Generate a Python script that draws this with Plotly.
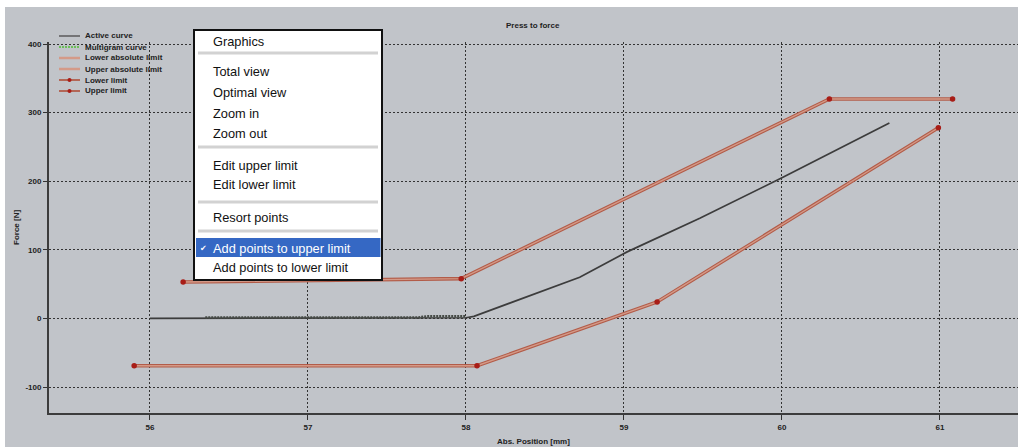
import plotly.graph_objects as go

# ---------------- data ----------------
active_x = [56.0, 58.0, 58.05, 58.72, 59.02, 59.48, 60.0, 60.68]
active_y = [0, 1, 3, 60, 97, 146, 205, 285]

multigram_x = [56.35, 57.7, 57.75, 58.0]
multigram_y = [1.5, 1.5, 3, 3]

upper_limit_x = [56.21, 57.97, 60.30, 61.08]
upper_limit_y = [53, 58, 320, 320]
lower_limit_x = [55.90, 58.07, 59.21, 60.99]
lower_limit_y = [-69, -69, 24, 278]

upper_abs_x = [56.21, 57.97, 60.30, 61.08]
upper_abs_y = [53, 58, 320, 320]
lower_abs_x = [55.90, 58.07, 59.21, 60.99]
lower_abs_y = [-69, -69, 24, 278]

x_ticks = [56, 57, 58, 59, 60, 61]
y_ticks = [-100, 0, 100, 200, 300, 400]

legend_names = ["Active curve", "Multigram curve", "Lower absolute limit",
                "Upper absolute limit", "Lower limit", "Upper limit"]
menu_items = ["Graphics", "Total view", "Optimal view", "Zoom in", "Zoom out",
              "Edit upper limit", "Edit lower limit", "Resort points",
              "Add points to upper limit", "Add points to lower limit"]

# ---------------- geometry ----------------
W, H = 1018, 447
L, R, T, B = 49, 0, 42, 34
PW, PH = W - L - R, H - T - B


def px(x):
    return (x - L) / PW


def py(y):
    return (H - B - y) / PH


BG = "#c1c4c9"
RED = "#b25c49"
SALMON = "#d49a88"
MARK = "#a81d17"
DARK = "#3c3c3c"

fig = go.Figure()

fig.add_trace(go.Scatter(x=lower_abs_x, y=lower_abs_y, mode="lines",
                         line=dict(color=RED, width=3.6), name="Lower absolute limit"))
fig.add_trace(go.Scatter(x=upper_abs_x, y=upper_abs_y, mode="lines",
                         line=dict(color=RED, width=3.6), name="Upper absolute limit"))
fig.add_trace(go.Scatter(x=lower_limit_x, y=lower_limit_y, mode="lines+markers",
                         line=dict(color=SALMON, width=1.4),
                         marker=dict(color=MARK, size=5.5), name="Lower limit"))
fig.add_trace(go.Scatter(x=upper_limit_x, y=upper_limit_y, mode="lines+markers",
                         line=dict(color=SALMON, width=1.4),
                         marker=dict(color=MARK, size=5.5), name="Upper limit"))
fig.add_trace(go.Scatter(x=active_x, y=active_y, mode="lines",
                         line=dict(color=DARK, width=1.7), name="Active curve"))
fig.add_trace(go.Scatter(x=multigram_x, y=multigram_y, mode="lines",
                         line=dict(color="#454a45", width=2.5, dash="2px,1px"),
                         name="Multigram curve"))

shapes = []
ann = []

# white frame strips
shapes.append(dict(type="rect", xref="paper", yref="paper", x0=px(0), x1=px(W),
                   y0=py(0), y1=py(7), fillcolor="white", line=dict(width=0)))
shapes.append(dict(type="rect", xref="paper", yref="paper", x0=px(0), x1=px(5),
                   y0=py(0), y1=py(H), fillcolor="white", line=dict(width=0)))

# title and axis titles
tfont = dict(family="Liberation Sans", size=8, color="#222", weight="bold")
ann.append(dict(text="Press to force", x=px(533), y=py(26), xref="paper", yref="paper",
                showarrow=False, font=tfont, xanchor="center", yanchor="middle"))
ann.append(dict(text="Abs. Position [mm]", x=px(533), y=py(441), xref="paper", yref="paper",
                showarrow=False, font=tfont, xanchor="center", yanchor="middle"))
ann.append(dict(text="Force [N]", x=px(16), y=py(228), xref="paper", yref="paper",
                showarrow=False, font=tfont, textangle=-90, xanchor="center", yanchor="middle"))

# legend (drawn manually)
leg_y = [36, 47, 58, 69, 80, 91]
leg_styles = [
    dict(color="#5a5a5a", width=1.5, dash="solid"),
    dict(color="#6cbf5a", width=2, dash="2px,1px"),
    dict(color=SALMON, width=2.5, dash="solid"),
    dict(color=SALMON, width=2.5, dash="solid"),
    dict(color=RED, width=1.8, dash="solid"),
    dict(color=RED, width=1.8, dash="solid"),
]
lfont = dict(family="Liberation Sans", size=8, color="#222", weight="bold")
for i, (name, yy, st) in enumerate(zip(legend_names, leg_y, leg_styles)):
    shapes.append(dict(type="line", xref="paper", yref="paper", x0=px(59), x1=px(80),
                       y0=py(yy), y1=py(yy), line=st))
    if i >= 4:
        shapes.append(dict(type="circle", xref="paper", yref="paper",
                           x0=px(67.5), x1=px(71.5), y0=py(yy - 2), y1=py(yy + 2),
                           fillcolor=MARK, line=dict(width=0)))
    ann.append(dict(text=name, x=px(83), y=py(yy), xref="paper", yref="paper",
                    showarrow=False, font=lfont, xanchor="left", yanchor="middle"))

# context menu
mx0, mx1, my0, my1 = 194, 382, 30, 280
shapes.append(dict(type="rect", xref="paper", yref="paper", x0=px(mx0), x1=px(mx1),
                   y0=py(my1), y1=py(my0), fillcolor="white",
                   line=dict(color="#111", width=2)))
for sy in [53, 147, 202, 231]:
    shapes.append(dict(type="line", xref="paper", yref="paper", x0=px(198), x1=px(378),
                       y0=py(sy), y1=py(sy), line=dict(color="#d2d2d2", width=3)))
shapes.append(dict(type="rect", xref="paper", yref="paper", x0=px(196), x1=px(380.5),
                   y0=py(257), y1=py(238), fillcolor="#3568c4", line=dict(width=0)))
item_y = [41, 72, 92, 113, 133, 165, 184, 217, 248, 267]
mfont = dict(family="Liberation Sans", size=12.8, color="#111")
for name, yy in zip(menu_items, item_y):
    f = dict(mfont)
    if name == "Add points to upper limit":
        f["color"] = "white"
    ann.append(dict(text=name, x=px(211), y=py(yy), xref="paper", yref="paper",
                    showarrow=False, font=f, xanchor="left", yanchor="middle"))
ann.append(dict(text="✔", x=px(203), y=py(248), xref="paper", yref="paper",
                showarrow=False, font=dict(family="DejaVu Sans", size=8, color="white"),
                xanchor="center", yanchor="middle"))

axfont = dict(family="Liberation Sans", size=8, color="#222", weight="bold")
fig.update_layout(
    width=W, height=H,
    margin=dict(l=L, r=R, t=T, b=B),
    paper_bgcolor=BG, plot_bgcolor=BG,
    showlegend=False,
    shapes=shapes, annotations=ann,
    xaxis=dict(range=[55.361, 61.494], tickvals=x_ticks, ticktext=[str(v) for v in x_ticks],
               showgrid=True, gridcolor="#333", gridwidth=1.2, griddash="2px,2px",
               showline=True, linecolor=DARK, linewidth=2, ticks="outside", ticklen=5,
               tickcolor="#333", zeroline=False, tickfont=axfont, fixedrange=True),
    yaxis=dict(range=[-137.9, 403], tickvals=y_ticks, ticktext=[str(v) for v in y_ticks],
               showgrid=True, gridcolor="#333", gridwidth=1.2, griddash="2px,2px",
               showline=True, linecolor=DARK, linewidth=2, ticks="outside", ticklen=4,
               tickcolor="#333", zeroline=False, tickfont=axfont, fixedrange=True),
)

fig.write_html("out.html", config={"displayModeBar": False},
               post_script="document.body.style.margin='0';document.body.style.overflow='hidden';")
